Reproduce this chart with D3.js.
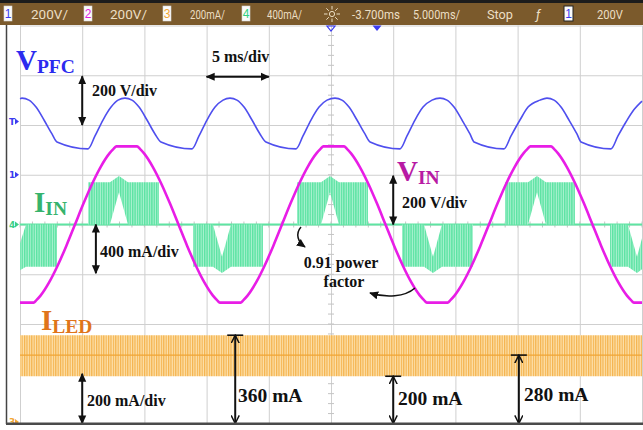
<!DOCTYPE html>
<html lang="en">
<head>
    <meta charset="UTF-8">
    <title>PFC LED Driver Waveforms</title>
    <script src="https://cdnjs.cloudflare.com/ajax/libs/d3/7.8.5/d3.min.js"></script>
    <style>
        body { margin: 0; background: #fff; }
        svg { display: block; }
        .note { font-family: "Liberation Serif", "Times New Roman", serif; font-weight: bold; fill: #111; }
        .hdr { font-family: "Liberation Sans Narrow", "Roboto", sans-serif; font-size: 13px; fill: #ecdfc4; }
        .lbl { font-family: "Liberation Serif", "Times New Roman", serif; font-weight: bold; }
    </style>
</head>
<body>
    <div id="scope"></div>

    <script>
    // time base: 5 ms/div, 10 divisions
    const timeDomain = [0, 50];

    // CH1 V_PFC (V), 200 V/div
    const vpfcT = [0, 0.16, 0.72, 1.29, 1.93, 2.57, 2.97, 5.47, 6.03, 6.67, 7.32, 7.88, 8.44, 9.00, 9.57, 10.21, 10.85, 11.33,
        13.83, 14.39, 15.03, 15.68, 16.32, 16.88, 17.44, 18.01, 18.65, 19.29, 19.77,
        22.19, 22.75, 23.39, 24.04, 24.68, 25.32, 25.88, 26.45, 27.09, 27.73, 28.14,
        30.55, 31.11, 31.75, 32.40, 33.12, 33.76, 34.32, 34.89, 35.53, 36.17, 36.50,
        38.91, 39.47, 40.19, 40.84, 41.80, 42.36, 42.93, 43.49, 44.13, 44.77, 45.10,
        47.51, 48.07, 48.71, 49.36, 50.00];
    const vpfcV = [306, 308, 300, 272, 220, 164, 132, 104, 156, 220, 272, 300, 308, 300, 272, 220, 164, 132,
        104, 156, 220, 272, 300, 308, 300, 272, 220, 164, 132,
        104, 156, 220, 272, 300, 308, 300, 272, 220, 164, 132,
        104, 156, 220, 272, 300, 308, 300, 272, 220, 164, 132,
        104, 156, 220, 272, 300, 308, 300, 272, 220, 164, 132,
        104, 156, 212, 262, 296];

    // CH2 V_IN (V), 200 V/div
    const vinT = [0, 1.09, 1.32, 1.65, 2.34, 3.03, 3.73, 4.42,
        5.11, 5.81, 6.50, 7.19, 7.52, 7.75, 9.41, 9.64, 9.97, 10.66, 11.35, 12.05, 12.74,
        13.43, 14.13, 14.82, 15.51, 15.84, 16.07, 17.73, 17.96, 18.29, 18.98, 19.67, 20.37, 21.06,
        21.75, 22.45, 23.14, 23.83, 24.16, 24.39, 26.05, 26.28, 26.61, 27.30, 27.99, 28.69, 29.38,
        30.07, 30.77, 31.46, 32.15, 32.48, 32.71, 34.37, 34.60, 34.93, 35.62, 36.31, 37.01, 37.70,
        38.39, 39.09, 39.78, 40.47, 40.80, 41.03, 42.69, 42.92, 43.25, 43.94, 44.63, 45.33, 46.02,
        46.71, 47.41, 48.10, 48.79, 49.12, 49.35, 50];
    const vinV = [-314, -314, -304, -286, -233, -165, -85, 0,
        85, 165, 233, 286, 304, 314, 314, 304, 286, 233, 165, 85, 0,
        -85, -165, -233, -286, -304, -314, -314, -304, -286, -233, -165, -85, 0,
        85, 165, 233, 286, 304, 314, 314, 304, 286, 233, 165, 85, 0,
        -85, -165, -233, -286, -304, -314, -314, -304, -286, -233, -165, -85, 0,
        85, 165, 233, 286, 304, 314, 314, 304, 286, 233, 165, 85, 0,
        -85, -165, -233, -286, -304, -314, -314];

    // CH4 I_IN (mA), 400 mA/div: switching burst envelopes, null = gap between bursts
    const iinT = [0, 0.48, 2.97, null, 5.47, 7.23, 7.96, 8.68, 11.17, null,
        13.91, 15.51, 16.24, 16.96, 19.53, null, 22.27, 24.20, 24.92, 25.64, 27.97, null,
        30.71, 32.48, 33.20, 33.92, 36.41, null, 38.99, 40.84, 41.56, 42.28, 44.61, null,
        47.43, 48.87, 49.60, 50];
    const iinInner = [-150, 0, 0, null, 0, 0, 260, 0, 0, null,
        0, 0, -260, 0, 0, null, 0, 0, 260, 0, 0, null,
        0, 0, -260, 0, 0, null, 0, 0, 260, 0, 0, null,
        0, 0, -260, -110];
    const iinOuter = [-368, -340, -340, null, 340, 340, 390, 340, 340, null,
        -340, -340, -390, -340, -340, null, 340, 340, 390, 340, 340, null,
        -340, -340, -390, -340, -340, null, 340, 340, 390, 340, 340, null,
        -340, -340, -390, -360];
    const iinIdleT = [0, 50];
    const iinIdle = [0, 0];

    // CH3 I_LED (mA), 200 mA/div, ripple band
    const iledT = [0, 50];
    const iledMax = [355, 355];
    const iledMin = [190, 190];
    const iledAvg = [275, 275];

    // header texts
    const hdrChannels = ["1", "2", "3", "4"];
    const hdrScales = ["200V/", "200V/", "200mA/", "400mA/"];
    const hdrTime = ["-3.700ms", "5.000ms/", "Stop"];
    const hdrTrig = ["1", "200V"];

    const W = 643, H = 430;
    const chColors = ["#3b3bf0", "#e01fe0", "#f2a634", "#2fd080"];

    const svg = d3.select("#scope").append("svg")
        .attr("width", W).attr("height", H);

    const x = d3.scaleLinear().domain(timeDomain).range([20, 642]);
    const yDiv = d3.scaleLinear().domain([-4, 4]).range([423.5, 25.5]);
    // each channel: offset (div) + scale per div
    function channel(offsetDiv, perDiv) {
        return d3.scaleLinear()
            .domain([(-4 - offsetDiv) * perDiv, (4 - offsetDiv) * perDiv])
            .range([423.5, 25.5]);
    }
    const yPfc = channel(1, 200);
    const yVin = channel(0, 200);
    const yIin = channel(0, 400);
    const yLed = channel(-4, 200);

    // patterns for dense switching traces
    const defs = svg.append("defs");
    const gp = defs.append("pattern").attr("id", "greenStripe")
        .attr("patternUnits", "userSpaceOnUse").attr("width", 2.4).attr("height", 10);
    gp.append("rect").attr("width", 2.4).attr("height", 10).attr("fill", "#aef2d2");
    gp.append("rect").attr("width", 1.4).attr("height", 10).attr("fill", "#5be3a2");
    const op = defs.append("pattern").attr("id", "orangeStripe")
        .attr("patternUnits", "userSpaceOnUse").attr("width", 2.4).attr("height", 10);
    op.append("rect").attr("width", 2.4).attr("height", 10).attr("fill", "#fde2ae");
    op.append("rect").attr("width", 1.2).attr("height", 10).attr("fill", "#f4b24c");

    defs.append("marker").attr("id", "hf")
        .attr("viewBox", "0 0 10 10").attr("refX", 9).attr("refY", 5)
        .attr("markerWidth", 9).attr("markerHeight", 9)
        .attr("markerUnits", "userSpaceOnUse").attr("orient", "auto-start-reverse")
        .append("path").attr("d", "M0,0.5 L10,5 L0,9.5 z").attr("fill", "#111");
    defs.append("marker").attr("id", "ho")
        .attr("viewBox", "0 0 10 10").attr("refX", 9).attr("refY", 5)
        .attr("markerWidth", 9).attr("markerHeight", 9)
        .attr("markerUnits", "userSpaceOnUse").attr("orient", "auto-start-reverse")
        .append("path").attr("d", "M0,0.5 L9,5 L0,9.5").attr("fill", "none")
        .attr("stroke", "#111").attr("stroke-width", 1.6);

    // graticule
    svg.append("g")
        .attr("transform", `translate(0,423.5)`)
        .call(d3.axisBottom(x).ticks(10).tickSize(-398).tickFormat(""))
        .call(g => g.select(".domain").remove())
        .call(g => g.selectAll("line").attr("stroke", "#cfcfcf"));
    svg.append("g")
        .attr("transform", `translate(20,0)`)
        .call(d3.axisLeft(yDiv).ticks(8).tickSize(-622).tickFormat(""))
        .call(g => g.select(".domain").remove())
        .call(g => g.selectAll("line").attr("stroke", "#cfcfcf"));

    // minor ticks on the centre axes
    svg.append("g").selectAll("line")
        .data(d3.range(0, 50.01, 1))
        .join("line")
        .attr("x1", d => x(d)).attr("x2", d => x(d))
        .attr("y1", yDiv(0) - 3).attr("y2", yDiv(0) + 3)
        .attr("stroke", "#c4c4c4");
    svg.append("g").selectAll("line")
        .data(d3.range(-4, 4.01, 0.2))
        .join("line")
        .attr("x1", x(25) - 3).attr("x2", x(25) + 3)
        .attr("y1", d => yDiv(d)).attr("y2", d => yDiv(d))
        .attr("stroke", "#c4c4c4");

    // I_LED band
    const led = iledT.map((t, i) => ({ t, lo: iledMin[i], hi: iledMax[i], avg: iledAvg[i] }));
    svg.append("path")
        .datum(led)
        .attr("fill", "url(#orangeStripe)")
        .attr("d", d3.area().x(d => x(d.t)).y0(d => yLed(d.lo)).y1(d => yLed(d.hi)));
    svg.append("path")
        .datum(led)
        .attr("fill", "none")
        .attr("stroke", "#f0a535")
        .attr("stroke-width", 1.2)
        .attr("d", d3.line().x(d => x(d.t)).y(d => yLed(d.avg)));

    // I_IN
    svg.append("path")
        .datum(iinIdleT.map((t, i) => ({ t, v: iinIdle[i] })))
        .attr("fill", "none")
        .attr("stroke", "#5ee4a2")
        .attr("stroke-width", 2)
        .attr("d", d3.line().x(d => x(d.t)).y(d => yIin(d.v)));
    const iin = iinT.map((t, i) => ({ t, inner: iinInner[i], outer: iinOuter[i] }));
    svg.append("path")
        .datum(iin)
        .attr("fill", "url(#greenStripe)")
        .attr("d", d3.area()
            .defined(d => d.t !== null)
            .x(d => x(d.t))
            .y0(d => yIin(d.inner))
            .y1(d => yIin(d.outer)));

    // V_PFC
    svg.append("path")
        .datum(vpfcT.map((t, i) => ({ t, v: vpfcV[i] })))
        .attr("fill", "none")
        .attr("stroke", "#4f4fee")
        .attr("stroke-width", 1.6)
        .attr("d", d3.line().curve(d3.curveMonotoneX).x(d => x(d.t)).y(d => yPfc(d.v)));

    // V_IN
    svg.append("path")
        .datum(vinT.map((t, i) => ({ t, v: vinV[i] })))
        .attr("fill", "none")
        .attr("stroke", "#e81de6")
        .attr("stroke-width", 2.6)
        .attr("d", d3.line().curve(d3.curveMonotoneX).x(d => x(d.t)).y(d => yVin(d.v)));

    // annotations
    const ann = svg.append("g");
    function arrow(x1, y1, x2, y2, head) {
        ann.append("line")
            .attr("x1", x1).attr("y1", y1).attr("x2", x2).attr("y2", y2)
            .attr("stroke", "#111").attr("stroke-width", 2)
            .attr("marker-start", `url(#${head})`).attr("marker-end", `url(#${head})`);
    }
    function note(tx, ty, str, size, anchor) {
        ann.append("text").attr("class", "note")
            .attr("x", tx).attr("y", ty)
            .attr("font-size", size)
            .attr("text-anchor", anchor || "start")
            .text(str);
    }
    arrow(x(5), yDiv(2.98), x(5), yDiv(2), "hf");
    note(92, 96, "200 V/div", 16);
    arrow(x(15), yDiv(2.97), x(20), yDiv(2.97), "hf");
    note(212, 62, "5 ms/div", 16);
    arrow(x(6.1), yDiv(0), x(6.1), yDiv(-0.98), "hf");
    note(100, 257, "400 mA/div", 16);
    arrow(x(30), yDiv(0.98), x(30), yDiv(0), "hf");
    note(402, 208, "200 V/div", 16);
    arrow(x(5), yDiv(-3), x(5), yDiv(-4), "hf");
    note(87, 406, "200 mA/div", 16);

    // measurement arrows on I_LED
    [[17.3, 355, "360 mA", 238, 402], [30, 190, "200 mA", 398, 405], [40.1, 275, "280 mA", 524, 401]]
        .forEach(([t, v, str, tx, ty]) => {
            arrow(x(t), yLed(v), x(t), yLed(0), "ho");
            ann.append("line")
                .attr("x1", x(t) - 8).attr("x2", x(t) + 8)
                .attr("y1", yLed(v)).attr("y2", yLed(v))
                .attr("stroke", "#111").attr("stroke-width", 1.6);
            note(tx, ty, str, 19.5);
        });

    // power factor note with curved arrows
    note(341, 268, "0.91 power", 16, "middle");
    note(344, 287, "factor", 16, "middle");
    ann.append("path")
        .attr("d", "M301,227 C295,234 298,242 305,247")
        .attr("fill", "none").attr("stroke", "#111").attr("stroke-width", 1.5)
        .attr("marker-end", "url(#hf)");
    ann.append("path")
        .attr("d", "M415,288 C405,297 386,298 370,293")
        .attr("fill", "none").attr("stroke", "#111").attr("stroke-width", 1.5)
        .attr("marker-end", "url(#hf)");

    // trace labels
    function label(lx, ly, main, sub, color) {
        const t = svg.append("text").attr("class", "lbl").attr("x", lx).attr("y", ly).attr("fill", color);
        t.append("tspan").attr("font-size", 29).text(main);
        t.append("tspan").attr("font-size", 19.5).attr("dy", 3).text(sub);
    }
    label(16, 70, "V", "PFC", "#2b2bef");
    label(397, 181, "V", "IN", "#b81aa4");
    label(34, 212, "I", "IN", "#36b36c");
    label(41, 330, "I", "LED", "#e0741a");

    // left channel markers
    const mk = svg.append("g").attr("font-family", "DejaVu Sans, sans-serif").attr("font-size", 9).attr("font-weight", "bold");
    [[2.07, "T", chColors[0]], [1, "1", chColors[0]], [0, "4", "#3ccf86"], [-3.97, "3", chColors[2]]]
        .forEach(([d, s, c]) => {
            mk.append("text").attr("x", 9).attr("y", yDiv(d) + 3).attr("fill", c).text(s);
            mk.append("path")
                .attr("d", `M15,${yDiv(d) - 3} L19,${yDiv(d)} L15,${yDiv(d) + 3} z`)
                .attr("fill", c);
        });

    // header bar
    const hdr = svg.append("g");
    hdr.append("rect").attr("x", 0).attr("y", 0).attr("width", W).attr("height", 3).attr("fill", "#1c1c1c");
    hdr.append("rect").attr("x", 0).attr("y", 3).attr("width", W).attr("height", 22).attr("fill", "#7b5a2c");
    const boxX = [4, 84, 163, 242];
    const scaleX = [31, 110, 190, 267];
    const scaleW = [37, 37, 35, 35];
    hdrChannels.forEach((c, i) => {
        hdr.append("rect").attr("x", boxX[i]).attr("y", 6).attr("width", 8).attr("height", 15)
            .attr("fill", "#fbfbfb").attr("stroke", "#d8d8d8").attr("stroke-width", 0.6);
        hdr.append("text").attr("x", boxX[i] + 4).attr("y", 18).attr("text-anchor", "middle")
            .attr("font-family", "Liberation Sans, sans-serif").attr("font-size", 12)
            .attr("fill", chColors[i]).text(c);
        hdr.append("text").attr("class", "hdr").attr("x", scaleX[i]).attr("y", 19)
            .attr("textLength", scaleW[i]).attr("lengthAdjust", "spacingAndGlyphs").text(hdrScales[i]);
    });
    // intensity (sun) icon
    const sun = hdr.append("g").attr("transform", "translate(332,14)").attr("stroke", "#ecdfc4").attr("stroke-width", 1);
    sun.append("circle").attr("r", 2.6).attr("fill", "none");
    d3.range(8).forEach(k => {
        const a = k * Math.PI / 4;
        sun.append("line").attr("x1", Math.cos(a) * 4.5).attr("y1", Math.sin(a) * 4.5)
            .attr("x2", Math.cos(a) * 8).attr("y2", Math.sin(a) * 8);
    });
    const timeX = [352, 413, 487];
    const timeW = [48, 47, 26];
    hdrTime.forEach((s, i) => {
        hdr.append("text").attr("class", "hdr").attr("x", timeX[i]).attr("y", 19)
            .attr("textLength", timeW[i]).attr("lengthAdjust", "spacingAndGlyphs").text(s);
    });
    hdr.append("text").attr("class", "hdr").attr("x", 536).attr("y", 19).attr("font-style", "italic").text("ƒ");
    hdr.append("rect").attr("x", 564).attr("y", 6).attr("width", 9).attr("height", 15)
        .attr("fill", "#fbfbfb").attr("stroke", "#222").attr("stroke-width", 1);
    hdr.append("text").attr("x", 568.5).attr("y", 18).attr("text-anchor", "middle")
        .attr("font-family", "Liberation Sans, sans-serif").attr("font-size", 12)
        .attr("fill", chColors[0]).text(hdrTrig[0]);
    hdr.append("text").attr("class", "hdr").attr("x", 597).attr("y", 19)
        .attr("textLength", 26).attr("lengthAdjust", "spacingAndGlyphs").text(hdrTrig[1]);

    // time reference and trigger position markers
    svg.append("path")
        .attr("d", `M${x(25) - 4},26 L${x(25) + 4},26 L${x(25)},31 z`)
        .attr("fill", "none").attr("stroke", chColors[0]).attr("stroke-width", 1.2);
    svg.append("path")
        .attr("d", `M${x(28.7) - 4.5},25.5 L${x(28.7) + 4.5},25.5 L${x(28.7)},31 z`)
        .attr("fill", chColors[0]);

    // frame
    svg.append("line").attr("x1", 6.5).attr("x2", 6.5).attr("y1", 25).attr("y2", 424)
        .attr("stroke", "#444").attr("stroke-width", 1.5);
    svg.append("rect").attr("x", 6).attr("y", 422.5).attr("width", W - 6).attr("height", 2.5)
        .attr("fill", "#4a4a4a");
    </script>
</body>
</html>
